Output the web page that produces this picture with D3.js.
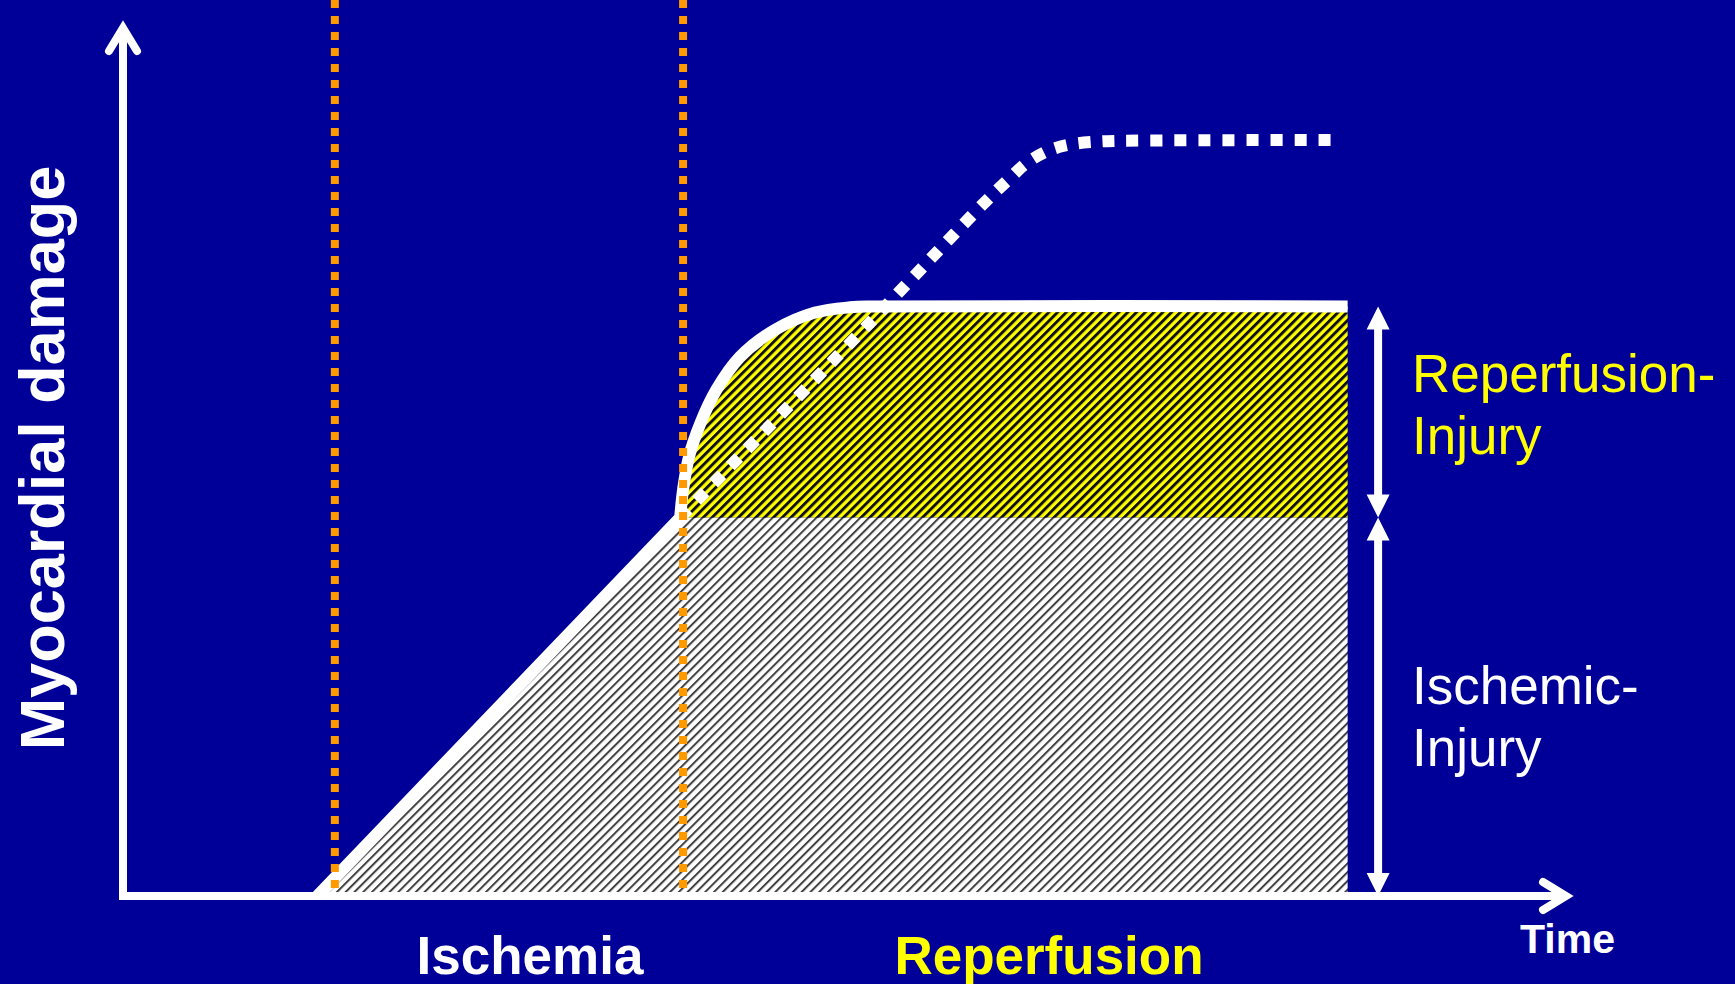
<!DOCTYPE html>
<html>
<head>
<meta charset="utf-8">
<script src="https://cdn.jsdelivr.net/npm/d3@7"></script>
<style>
  html, body { margin: 0; padding: 0; background: #000099; overflow: hidden; }
  svg { display: block; }
</style>
</head>
<body>
<div id="chart"></div>
<script>
// time (x) and myocardial damage (y), arbitrary units 0-100
const markerTimes = [14.6, 38.6]   // start of ischemia, start of reperfusion
const ischemicRise = [[13.4, 0], [38.4, 43.2]]
const reperfusedCurve = [[38.4, 43.2], [38.6, 46.4], [39.0, 50.1], [39.8, 54.0], [40.9, 57.8],
  [42.5, 61.5], [44.9, 64.6], [47.7, 66.6], [50.1, 67.2], [51.8, 67.3], [84.4, 67.3]]
const untreatedCurve = [[38.4, 43.2], [51.5, 65.5], [59.4, 79.2], [61.1, 81.9], [62.3, 83.7],
  [63.8, 85.1], [65.3, 85.8], [67.0, 86.1], [68.3, 86.2], [83.4, 86.3]]
const injuryLevels = [0, 43.2, 67.3]   // baseline, ischemic injury, reperfusion injury
const injuryArrowX = 86.5
const phaseLabels = ["Ischemia", "Reperfusion"]
const injuryLabels = [["Reperfusion-", "Injury"], ["Ischemic-", "Injury"]]
const axisLabels = ["Time", "Myocardial damage"]

const width = 1735, height = 984
const font = "Arial, 'Liberation Sans', sans-serif"

let x = d3.scaleLinear().domain([0, 100]).range([123, 1574])
let y = d3.scaleLinear().domain([0, 100]).range([896, 20])

let svg = d3.select("#chart")
  .append("svg")
  .attr("width", width)
  .attr("height", height)

svg.append("rect")
  .attr("width", width)
  .attr("height", height)
  .attr("fill", "#000099")

// hatch patterns
let defs = svg.append("defs")
let hatch = (id, bg, fg, w) => {
  let p = defs.append("pattern")
    .attr("id", id)
    .attr("patternUnits", "userSpaceOnUse")
    .attr("width", 6.2)
    .attr("height", 6.2)
    .attr("patternTransform", "rotate(45)")
  p.append("rect").attr("width", 6.2).attr("height", 6.2).attr("fill", bg)
  p.append("rect").attr("width", w).attr("height", 6.2).attr("fill", fg)
}
hatch("grey-hatch", "#ffffff", "#404040", 2.0)
hatch("yellow-hatch", "#ffff00", "#111111", 2.9)

let plateauEnd = reperfusedCurve[reperfusedCurve.length - 1][0]
let smooth = d3.curveCatmullRom.alpha(0.5)

// ischemic injury area
let greyPoints = [...ischemicRise, [plateauEnd, injuryLevels[1]]]
svg.append("path")
  .attr("d", d3.area()
    .x(d => x(d[0]))
    .y0(y(0))
    .y1(d => y(d[1]))(greyPoints))
  .attr("fill", "url(#grey-hatch)")

// reperfusion injury area
svg.append("path")
  .attr("d", d3.area()
    .curve(smooth)
    .x(d => x(d[0]))
    .y0(y(injuryLevels[1]))
    .y1(d => y(d[1]))(reperfusedCurve))
  .attr("fill", "url(#yellow-hatch)")

// damage without reperfusion (dotted)
svg.append("path")
  .attr("d", d3.line()
    .curve(smooth)
    .x(d => x(d[0]))
    .y(d => y(d[1]))(untreatedCurve))
  .attr("fill", "none")
  .attr("stroke", "#ffffff")
  .attr("stroke-width", 12)
  .attr("stroke-dasharray", "12,12")

// damage with reperfusion (solid)
let lin = d3.line().x(d => x(d[0])).y(d => y(d[1]))
let curved = d3.line().curve(smooth).x(d => x(d[0])).y(d => y(d[1]))
svg.append("path")
  .attr("d", lin(ischemicRise) + curved(reperfusedCurve).replace(/^M/, "L"))
  .attr("fill", "none")
  .attr("stroke", "#ffffff")
  .attr("stroke-width", 12)
  .attr("stroke-linejoin", "round")

// axes
let [x0, x1] = x.range()
let [yb, yt] = y.range()
let axisG = svg.append("g")
  .attr("stroke", "#ffffff")
  .attr("stroke-width", 8)
  .attr("fill", "none")
axisG.append("line")
  .attr("x1", x0).attr("y1", yb + 4)
  .attr("x2", x0).attr("y2", yt + 8)
axisG.append("path")
  .attr("d", `M${x0 - 14},${yt + 31}L${x0},${yt + 8}L${x0 + 14},${yt + 31}`)
  .attr("stroke-linecap", "round")
axisG.append("line")
  .attr("x1", x0 - 4).attr("y1", yb)
  .attr("x2", x1 - 8).attr("y2", yb)
axisG.append("path")
  .attr("d", `M${x1 - 31},${yb - 14}L${x1 - 8},${yb}L${x1 - 31},${yb + 14}`)
  .attr("stroke-linecap", "round")

// onset markers
svg.selectAll(".marker")
  .data(markerTimes)
  .enter().append("line")
  .attr("class", "marker")
  .attr("x1", d => x(d)).attr("x2", d => x(d))
  .attr("y1", 0).attr("y2", y(0))
  .attr("stroke", "#ff9900")
  .attr("stroke-width", 8)
  .attr("stroke-dasharray", "8,8")

// double arrows for injury extent
let arrowPath = (ax, ya, yb2) => {
  let h = 23, hw = 11.5, sw = 4
  return `M${ax},${ya}L${ax + hw},${ya + h}L${ax + sw},${ya + h}L${ax + sw},${yb2 - h}` +
    `L${ax + hw},${yb2 - h}L${ax},${yb2}L${ax - hw},${yb2 - h}L${ax - sw},${yb2 - h}` +
    `L${ax - sw},${ya + h}L${ax - hw},${ya + h}Z`
}
let spans = d3.pairs(injuryLevels).reverse()
svg.selectAll(".span-arrow")
  .data(spans)
  .enter().append("path")
  .attr("class", "span-arrow")
  .attr("d", d => arrowPath(x(injuryArrowX), y(d[1]), y(d[0])))
  .attr("fill", "#ffffff")

// labels
let injuryColors = ["#ffff00", "#ffffff"]
let injuryBase = [392, 704]
injuryLabels.forEach((lines, i) => {
  let t = svg.append("text")
    .attr("x", 1412)
    .attr("y", injuryBase[i])
    .attr("font-family", font)
    .attr("font-size", "53px")
    .attr("fill", injuryColors[i])
  lines.forEach((s, j) => {
    t.append("tspan")
      .attr("x", 1412)
      .attr("dy", j === 0 ? 0 : 62)
      .text(s)
  })
})

let phaseX = [530, 1049]
let phaseColors = ["#ffffff", "#ffff00"]
svg.selectAll(".phase")
  .data(phaseLabels)
  .enter().append("text")
  .attr("class", "phase")
  .attr("x", (d, i) => phaseX[i])
  .attr("y", 974)
  .attr("text-anchor", "middle")
  .attr("font-family", font)
  .attr("font-weight", "bold")
  .attr("font-size", "53px")
  .attr("fill", (d, i) => phaseColors[i])
  .text(d => d)

svg.append("text")
  .attr("x", 1520)
  .attr("y", 953)
  .attr("font-family", font)
  .attr("font-weight", "bold")
  .attr("font-size", "41px")
  .attr("fill", "#ffffff")
  .text(axisLabels[0])

svg.append("text")
  .attr("transform", "translate(64, 458) rotate(-90)")
  .attr("text-anchor", "middle")
  .attr("font-family", font)
  .attr("font-weight", "bold")
  .attr("font-size", "63px")
  .attr("fill", "#ffffff")
  .text(axisLabels[1])
</script>
</body>
</html>
